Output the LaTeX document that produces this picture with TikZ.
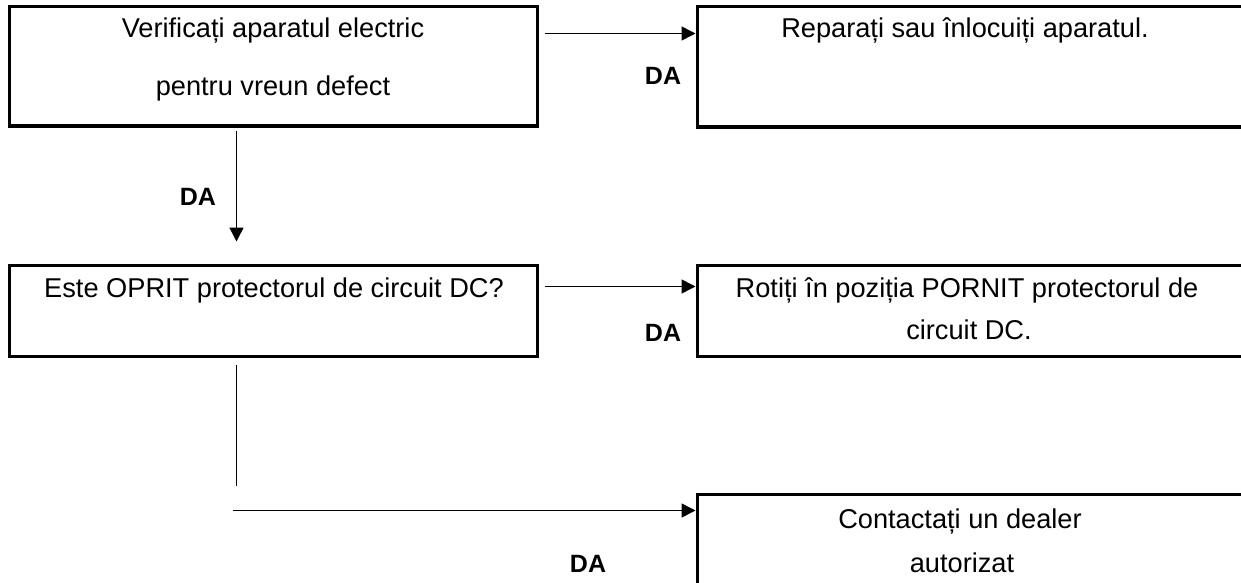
\documentclass[tikz,border=0pt]{standalone}
\usepackage{fontspec}
\setmainfont{Liberation Sans}
\usetikzlibrary{arrows.meta, calc}

\begin{document}
\begin{tikzpicture}[x=0.5pt, y=-0.5pt, >={Triangle[length=7pt,width=7pt]},
    box/.style={draw, line width=1.5pt, inner sep=0pt},
    txt/.style={font=\fontsize{13.6}{15}\selectfont, inner sep=0pt, anchor=base},
    da/.style={font=\fontsize{12.5}{15}\selectfont\bfseries, inner sep=0pt, anchor=base},
    conn/.style={line width=0.8pt}]
  \useasboundingbox (0,0) rectangle (1241,583);
  \clip (0,0) rectangle (1241,583);
  % boxes
  \node[box, minimum width=264pt, minimum height=59.5pt] (chk) at (273,66.5) {};
  \node[box, minimum width=276.5pt, minimum height=60pt] (rep) at (973.5,67) {};
  \node[box, minimum width=264pt, minimum height=45.5pt] (ops) at (273,310.5) {};
  \node[box, minimum width=276.5pt, minimum height=45.5pt] (rot) at (973.5,310.5) {};
  \node[box, minimum width=276.5pt, minimum height=53pt] (dlr) at (973.5,547) {};
  % texts
  \node[txt] at (273,38) {Verificați aparatul electric};
  \node[txt] at (273,96) {pentru vreun defect};
  \node[txt] at (965,38) {Reparați sau înlocuiți aparatul.};
  \node[txt] at (274,297) {Este OPRIT protectorul de circuit DC?};
  \node[txt] at (967,297) {Rotiți în poziția PORNIT protectorul de};
  \node[txt] at (969,339) {circuit DC.};
  \node[txt] at (960,528) {Contactați un dealer};
  \node[txt] at (962,572) {autorizat};
  \node[da] (da1) at (663,85) {DA};
  \node[da] (da2) at (198,205) {DA};
  \node[da] (da3) at (663,341) {DA};
  \node[da] (da4) at (588,572) {DA};
  % connectors
  \draw[conn, ->] ($(chk.north east)+(6,28)$) -- ($(rep.north west)+(0,28)$);
  \draw[conn, ->] ($(chk.south west)+(229,3)$) -- ($(chk.south west)+(229,114)$);
  \draw[conn, ->] ($(ops.north east)+(6,23)$) -- ($(rot.north west)+(0,23)$);
  \draw[conn] ($(ops.south west)+(229,7)$) -- ++(0,121);
  \coordinate (fork) at ($(dlr.north west)+(-463,18)$);
  \draw[conn, ->] (fork) -- ($(dlr.north west)+(0,18)$);
\end{tikzpicture}
\end{document}
